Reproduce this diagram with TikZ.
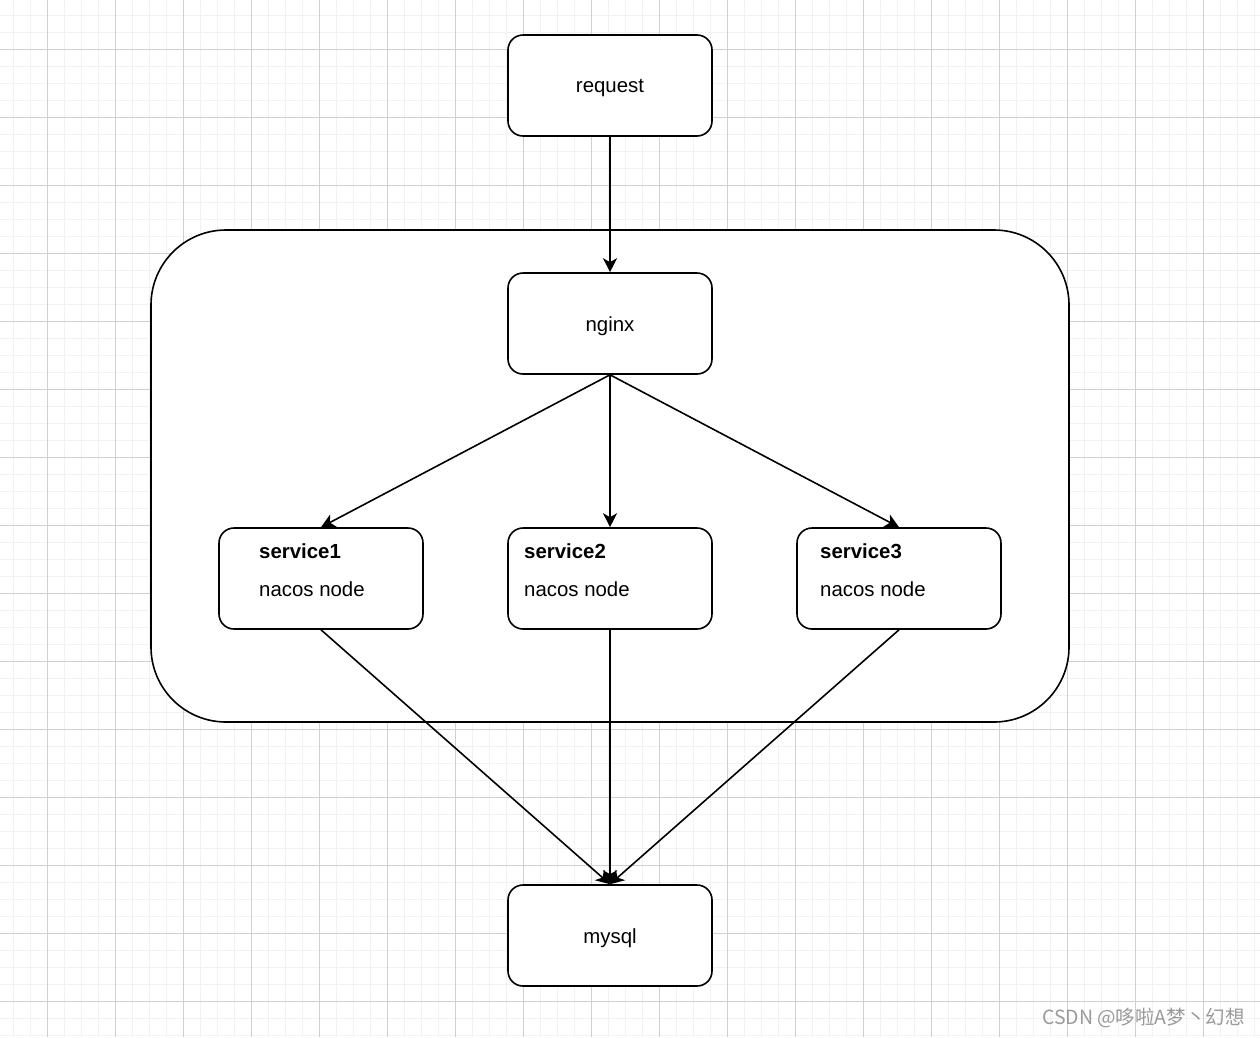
\documentclass[tikz,border=0pt]{standalone}
\usepackage{fontspec}
\setmainfont{Liberation Sans}
\newfontfamily\cjk{Noto Sans CJK SC}
\usetikzlibrary{arrows.meta}
\definecolor{minorgrid}{HTML}{F2F2F2}
\definecolor{majorgrid}{HTML}{D0D0D0}
\definecolor{wmgray}{HTML}{9A9A9A}
\tikzset{
  box/.style={draw=black, line width=1.6pt, rounded corners=15pt, fill=white,
    minimum width=204pt, minimum height=101pt, inner sep=0pt,
    font=\fontsize{20.4}{24}\selectfont},
  lbl/.style={anchor=west, inner sep=0pt, font=\fontsize{20.4}{24}\selectfont},
  conn/.style={draw=black, line width=1.6pt, -{Stealth[length=14pt,width=14pt,inset=4pt]}},
}
\begin{document}
\begin{tikzpicture}[x=1pt,y=-1pt]
\useasboundingbox (0,0) rectangle (1260,1037);
\fill[white] (0,0) rectangle (1260,1037);
% minor grid
\foreach \i in {0,...,74} {
  \draw[minorgrid, line width=1.6pt] ({13.3+17*\i},0) -- ({13.3+17*\i},1037);
}
\foreach \i in {0,...,60} {
  \draw[minorgrid, line width=1.6pt] (0,{15.3+17*\i}) -- (1260,{15.3+17*\i});
}
% major grid
\foreach \i in {0,...,18} {
  \draw[majorgrid, line width=1pt] ({47.3+68*\i},0) -- ({47.3+68*\i},1037);
}
\foreach \i in {0,...,14} {
  \draw[majorgrid, line width=1pt] (0,{49.3+68*\i}) -- (1260,{49.3+68*\i});
}
% container
\draw[line width=1.6pt, rounded corners=75pt, fill=white] (151,230) rectangle (1069,722);
% nodes
\node[box] (req) at (610,85.5) {};
\node[box] (ngx) at (610,323.5) {};
\node[box] (s1) at (321,578.5) {};
\node[box] (s2) at (610,578.5) {};
\node[box] (s3) at (899,578.5) {};
\node[box] (db) at (610,935.5) {};
\node[inner sep=0pt, font=\fontsize{20.4}{24}\selectfont] (reqt) at (610,88.5) {request};
\node[inner sep=0pt, font=\fontsize{20.4}{24}\selectfont] (ngxt) at (610,326.5) {nginx};
\node[inner sep=0pt, font=\fontsize{20.4}{24}\selectfont] (dbt) at (610,938.5) {mysql};
\node[lbl, font=\fontsize{20.4}{24}\selectfont\bfseries] (s1a) at (259,551) {service1};
\node[lbl] (s1b) at (259,589) {nacos node};
\node[lbl, font=\fontsize{20.4}{24}\selectfont\bfseries] (s2a) at (524,551) {service2};
\node[lbl] (s2b) at (524,589) {nacos node};
\node[lbl, font=\fontsize{20.4}{24}\selectfont\bfseries] (s3a) at (820,551) {service3};
\node[lbl] (s3b) at (820,589) {nacos node};
% connectors
\draw[conn] (req.south) -- (ngx.north);
\draw[conn] (ngx.south) -- (s1.north);
\draw[conn] (ngx.south) -- (s2.north);
\draw[conn] (ngx.south) -- (s3.north);
\draw[conn] (s1.south) -- (db.north);
\draw[conn] (s2.south) -- (db.north);
\draw[conn] (s3.south) -- (db.north);
% watermark
\node[anchor=east, inner sep=0pt, text=wmgray, font=\cjk\fontsize{19.5}{22}\selectfont] (wm) at (1245,1018) {CSDN @哆啦A梦丶幻想};
\end{tikzpicture}
\end{document}
